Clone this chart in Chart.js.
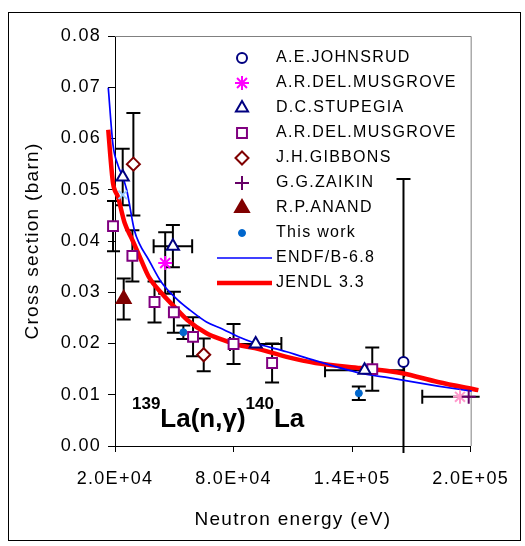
<!DOCTYPE html>
<html>
<head>
<meta charset="utf-8">
<script src="https://cdn.jsdelivr.net/npm/chart.js@4.4.1/dist/chart.umd.min.js"></script>
<style>
  html, body { margin: 0; padding: 0; background: #fff; }
  #wrap { width: 525px; height: 546px; }
</style>
</head>
<body>
<div id="wrap"><canvas id="chart" width="525" height="546"></canvas></div>
<script>
// axis ticks
const xTicks = [20000, 80000, 140000, 200000];
const xTickLabels = ['2.0E+04', '8.0E+04', '1.4E+05', '2.0E+05'];
const yTicks = [0, 0.01, 0.02, 0.03, 0.04, 0.05, 0.06, 0.07, 0.08];
const yTickLabels = ['0.00', '0.01', '0.02', '0.03', '0.04', '0.05', '0.06', '0.07', '0.08'];

// measurements: energy (eV), cross section (barn), error in barn / eV
const johnsrudE = [166000];
const johnsrudS = [0.0164];
const johnsrudDS = [0.0357];

const musgroveAE = [45400];
const musgroveAS = [0.0357];
const musgroveADS = [0.006];

const stupegiaE = [23900, 49300, 91200, 146300];
const stupegiaS = [0.0525, 0.039, 0.0199, 0.0148];
const stupegiaDS = [0.0055, 0.0041, 0, 0];
const stupegiaDE = [0, 9750, 13000, 20000];

const musgroveBE = [19000, 28800, 40000, 49800, 59500, 80000, 99500, 150200];
const musgroveBS = [0.0429, 0.0371, 0.0281, 0.0261, 0.0213, 0.0199, 0.0162, 0.0150];
const musgroveBDS = [0.0049, 0.0050, 0.0040, 0.0040, 0.0038, 0.0039, 0.0038, 0.0042];

const gibbonsE = [29300, 64900];
const gibbonsS = [0.055, 0.0178];
const gibbonsDS = [0.010, 0.0032];

const zaikinE = [199000];
const zaikinS = [0.0096];
const zaikinDE = [23500];

const anandE = [24400];
const anandS = [0.0287];
const anandDS = [0.004];

const thisWorkE = [54600, 143400];
const thisWorkS = [0.0222, 0.0103];
const thisWorkDS = [0.0013, 0.0013];

// extra points without legend entry
const extraXE = [23900];
const extraXS = [0.049];
const extraStarE = [194600];
const extraStarS = [0.0096];

// evaluations
const endfE = [16600, 19000, 21500, 23900, 25900, 29800, 32200, 37100, 43400, 51700, 58000, 66300, 74600, 82400, 90700, 106800, 115100, 144400, 159000, 183400, 200500];
const endfS = [0.0699, 0.0587, 0.0548, 0.0525, 0.0500, 0.0421, 0.0396, 0.0363, 0.0320, 0.0285, 0.0265, 0.0242, 0.0228, 0.0213, 0.0201, 0.0184, 0.0174, 0.0142, 0.0133, 0.0117, 0.0107];
const jendlE = [16600, 17600, 19000, 21500, 24900, 28800, 33200, 37100, 43400, 50200, 56600, 66300, 74600, 82400, 90700, 106800, 121500, 144400, 159000, 165400, 183400, 203900];
const jendlS = [0.0617, 0.0568, 0.0513, 0.0486, 0.0435, 0.0402, 0.0363, 0.0330, 0.0299, 0.0271, 0.0246, 0.0220, 0.0207, 0.0197, 0.0191, 0.0174, 0.0162, 0.0152, 0.0146, 0.0142, 0.0125, 0.0109];

const FONT = '"Liberation Sans", Arial, sans-serif';
const pts = (E, S) => E.map((e, i) => ({ x: e, y: S[i] }));

function marker(label, E, S, style, err) {
  return Object.assign({
    label, data: pts(E, S), showLine: false, clip: false, order: 1,
    pointBorderWidth: 2, pointHoverRadius: 0, err
  }, style);
}

const datasets = [
  marker('A.E.JOHNSRUD', johnsrudE, johnsrudS,
    { pointStyle: 'circle', pointRadius: 5, borderColor: '#000080', backgroundColor: '#fff' },
    { y: johnsrudDS }),
  marker('A.R.DEL.MUSGROVE', musgroveAE, musgroveAS,
    { pointStyle: 'star', pointRadius: 7, borderColor: '#ff00ff', backgroundColor: '#ff00ff' },
    { y: musgroveADS }),
  marker('D.C.STUPEGIA', stupegiaE, stupegiaS,
    { pointStyle: 'triangle', pointRadius: 7, borderColor: '#000080', backgroundColor: '#fff' },
    { y: stupegiaDS, x: stupegiaDE }),
  marker('A.R.DEL.MUSGROVE', musgroveBE, musgroveBS,
    { pointStyle: 'rect', pointRadius: 7, borderColor: '#800080', backgroundColor: '#fff' },
    { y: musgroveBDS }),
  marker('J.H.GIBBONS', gibbonsE, gibbonsS,
    { pointStyle: 'rectRot', pointRadius: 6.5, borderColor: '#800000', backgroundColor: '#fff' },
    { y: gibbonsDS }),
  marker('G.G.ZAIKIN', zaikinE, zaikinS,
    { pointStyle: 'cross', pointRadius: 7, borderColor: '#660066', backgroundColor: '#660066' },
    { x: zaikinDE }),
  marker('R.P.ANAND', anandE, anandS,
    { pointStyle: 'triangle', pointRadius: 8, borderColor: '#800000', backgroundColor: '#800000' },
    { y: anandDS }),
  marker('This work', thisWorkE, thisWorkS,
    { pointStyle: 'circle', pointRadius: 3.5, pointBorderWidth: 1, borderColor: '#0066cc', backgroundColor: '#0066cc' },
    { y: thisWorkDS }),
  {
    label: 'ENDF/B-6.8', data: pts(endfE, endfS), showLine: true, clip: false, order: 2,
    borderColor: '#0000ff', borderWidth: 1.7, pointRadius: 0, cubicInterpolationMode: 'monotone'
  },
  {
    label: 'JENDL 3.3', data: pts(jendlE, jendlS), showLine: true, clip: false, order: 2,
    borderColor: '#ff0000', borderWidth: 4.5, pointRadius: 0, cubicInterpolationMode: 'monotone'
  },
  marker('x', extraXE, extraXS,
    { pointStyle: 'crossRot', pointRadius: 6, borderColor: '#99ccff', backgroundColor: '#99ccff', noLegend: true }),
  marker('star', extraStarE, extraStarS,
    { pointStyle: 'star', pointRadius: 7, borderColor: '#ff99cc', backgroundColor: '#ff99cc', noLegend: true })
];

const spacing = {
  id: 'spacing',
  beforeLayout(chart) { chart.ctx.letterSpacing = '1.3px'; },
  beforeDraw(chart) { chart.ctx.letterSpacing = '1.3px'; }
};

const errorBars = {
  id: 'errorBars',
  beforeDatasetsDraw(chart) {
    const { ctx, chartArea: a, scales: { x, y } } = chart;
    ctx.save();
    ctx.beginPath();
    ctx.rect(a.left - 8, a.top, a.right - a.left + 17, a.bottom - a.top + 7);
    ctx.clip();
    ctx.strokeStyle = '#000';
    ctx.lineWidth = 2;
    const cap = 7;
    const seg = (x1, y1, x2, y2) => { ctx.beginPath(); ctx.moveTo(x1, y1); ctx.lineTo(x2, y2); ctx.stroke(); };
    chart.data.datasets.forEach(ds => {
      if (!ds.err) return;
      ds.data.forEach((p, i) => {
        const px = x.getPixelForValue(p.x), py = y.getPixelForValue(p.y);
        const dy = ds.err.y ? ds.err.y[i] : 0;
        const dx = ds.err.x ? ds.err.x[i] : 0;
        if (dy) {
          const t = y.getPixelForValue(p.y + dy), b = y.getPixelForValue(p.y - dy);
          seg(px, t, px, b);
          seg(px - cap, t, px + cap, t);
          seg(px - cap, b, px + cap, b);
        }
        if (dx) {
          const l = x.getPixelForValue(p.x - dx), r = x.getPixelForValue(p.x + dx);
          seg(l, py, r, py);
          seg(l, py - cap, l, py + cap);
          seg(r, py - cap, r, py + cap);
        }
      });
    });
    ctx.restore();
  }
};

const decor = {
  id: 'decor',
  beforeDatasetsDraw(chart) {
    const { ctx, chartArea: a } = chart;
    ctx.save();
    ctx.strokeStyle = '#808080';
    ctx.lineWidth = 1;
    ctx.beginPath();
    ctx.moveTo(a.left, a.top + 0.5);
    ctx.lineTo(a.right + 0.5, a.top + 0.5);
    ctx.lineTo(a.right + 0.5, a.bottom);
    ctx.stroke();
    ctx.restore();
  },
  afterDraw(chart) {
    const ctx = chart.ctx;
    ctx.save();
    ctx.strokeStyle = '#000';
    ctx.lineWidth = 1;
    ctx.strokeRect(8.5, 12.5, 512, 528);

    // reaction label
    ctx.fillStyle = '#000';
    ctx.letterSpacing = '0px';
    ctx.textBaseline = 'alphabetic';
    ctx.textAlign = 'left';
    let cx = 132;
    const parts = [['139', 17, 409], ['La(n,\u03b3)', 26, 427], ['140', 17, 409], ['La', 26, 427]];
    parts.forEach(([t, s, by]) => {
      ctx.font = 'bold ' + s + 'px ' + FONT;
      ctx.fillText(t, cx, by);
      cx += ctx.measureText(t).width;
    });
    ctx.restore();
  }
};

const legendBox = {
  id: 'legendBox',
  afterDatasetsDraw(chart) {
    const ctx = chart.ctx;
    ctx.save();
    ctx.letterSpacing = '1.3px';
    let row = 0;
    chart.data.datasets.forEach(ds => {
      if (ds.noLegend) return;
      const yy = 58 + row * 25;
      if (ds.showLine) {
        ctx.strokeStyle = ds.borderColor;
        ctx.lineWidth = ds.borderWidth;
        ctx.beginPath();
        ctx.moveTo(217, yy);
        ctx.lineTo(272, yy);
        ctx.stroke();
      } else {
        ctx.strokeStyle = ds.borderColor;
        ctx.fillStyle = ds.backgroundColor;
        ctx.lineWidth = ds.pointBorderWidth;
        Chart.helpers.drawPoint(ctx, {
          pointStyle: ds.pointStyle, radius: ds.pointRadius, rotation: 0, borderWidth: ds.pointBorderWidth
        }, 242, yy);
      }
      ctx.fillStyle = '#000';
      ctx.font = '16px ' + FONT;
      ctx.textBaseline = 'middle';
      ctx.textAlign = 'left';
      ctx.fillText(ds.label, 276, yy);
      row++;
    });
    ctx.restore();
  }
};

new Chart(document.getElementById('chart'), {
  type: 'scatter',
  data: { datasets },
  plugins: [spacing, errorBars, decor, legendBox],
  options: {
    responsive: false,
    animation: false,
    events: [],
    layout: { padding: { top: 36, right: 41, left: 0, bottom: 0 } },
    plugins: { legend: { display: false }, tooltip: { enabled: false } },
    scales: {
      x: {
        type: 'linear', bounds: 'data',
        // range set after data limits so points left of 2E4 are still drawn
        afterDataLimits: s => { s.min = xTicks[0]; s.max = xTicks[xTicks.length - 1]; },
        afterBuildTicks: s => { s.ticks = xTicks.map(v => ({ value: v })); },
        afterFit: s => { s.height = 100; },
        ticks: {
          callback: (v, i) => xTickLabels[i], color: '#000', padding: 16,
          maxRotation: 0, autoSkip: false, font: { family: FONT, size: 18 }
        },
        grid: { drawOnChartArea: false, drawTicks: true, tickLength: 6, color: '#000' },
        border: { color: '#000', width: 1 },
        title: { display: true, text: 'Neutron energy (eV)', color: '#000', padding: 15, font: { family: FONT, size: 19 } }
      },
      y: {
        type: 'linear', min: 0, max: 0.08,
        afterBuildTicks: s => { s.ticks = yTicks.map(v => ({ value: v })); },
        afterFit: s => { s.width = 115; },
        ticks: {
          callback: (v, i) => yTickLabels[i], color: '#000', padding: 7,
          autoSkip: false, font: { family: FONT, size: 18 }
        },
        grid: { drawOnChartArea: false, drawTicks: true, tickLength: 7, color: '#000' },
        border: { color: '#000', width: 1 },
        title: { display: true, text: 'Cross section (barn)', color: '#000', padding: 21, font: { family: FONT, size: 19 } }
      }
    }
  }
});
</script>
</body>
</html>
